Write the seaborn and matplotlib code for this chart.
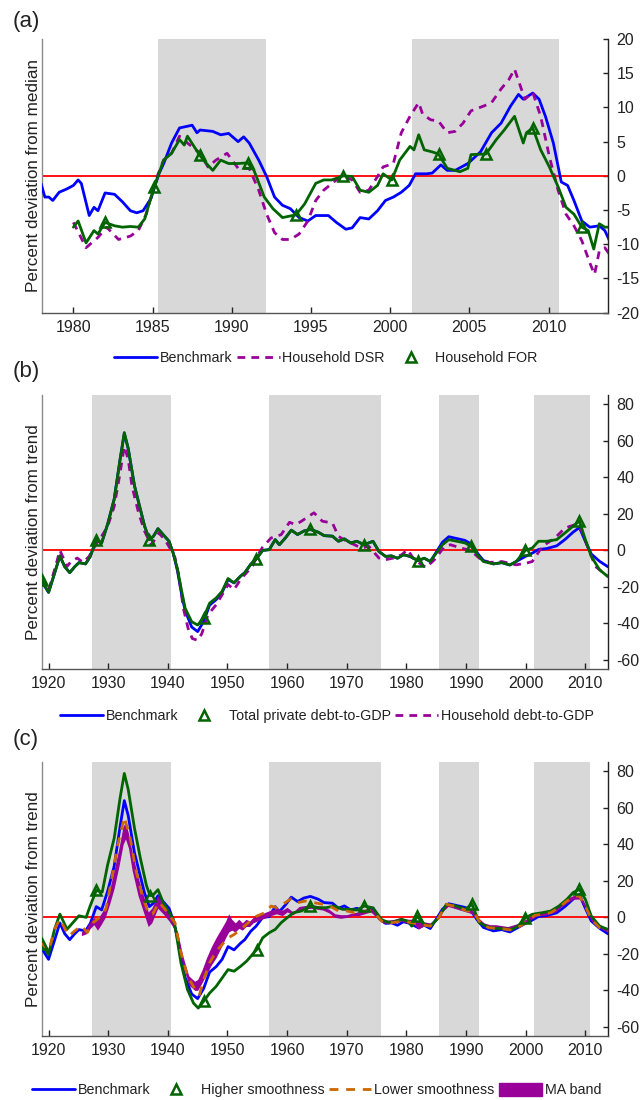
import matplotlib
matplotlib.use("Agg")
import matplotlib.pyplot as plt
import seaborn as sns
from matplotlib.lines import Line2D
from matplotlib.patches import Patch

sns.set_theme(style="white")
plt.rcParams["font.family"] = ["Liberation Sans", "DejaVu Sans"]
plt.rcParams["axes.unicode_minus"] = False

BLUE = "#0000ff"; GREEN = "#006400"; PURPLE = "#990099"
ORANGE = "#cc6600"; RED = "#ff0000"; SHADE = "#d8d8d8"

# ---------------- Panel (a) data ----------------
A_SHADE = [(1985.35, 1992.15), (2001.4, 2010.65)]
A_BENCH_X = [1977.93,1978.2,1978.45,1978.7,1979.1,1979.6,1980.0,1980.3,1980.5,1981.0,1981.3,1981.55,1982.0,1982.6,1983.1,1983.6,1984.0,1984.4,1984.9,1985.4,1985.7,1986.2,1986.7,1987.5,1987.8,1988.0,1988.8,1989.3,1989.8,1990.4,1990.75,1991.1,1991.7,1992.2,1992.7,1993.2,1993.7,1994.25,1994.8,1995.3,1996.1,1996.6,1997.2,1997.6,1998.1,1998.65,1999.2,1999.7,2000.2,2000.7,2001.2,2001.6,2002.3,2002.65,2003.2,2003.6,2004.1,2004.9,2005.7,2006.4,2007.0,2007.6,2008.1,2008.4,2009.0,2009.4,2009.8,2010.3,2010.8,2011.2,2011.6,2012.1,2012.6,2013.2,2013.55,2013.85]
A_BENCH_Y = [-0.9,-3.1,-3.1,-3.6,-2.4,-1.9,-1.4,-0.6,-1.1,-5.8,-4.6,-5.1,-2.5,-2.7,-3.8,-5.1,-5.4,-5.1,-3.3,0.3,1.8,4.8,7.0,7.4,6.3,6.7,6.5,6.0,6.2,5.0,5.7,4.8,2.3,-0.1,-3.1,-4.3,-4.8,-6.1,-6.6,-5.8,-5.8,-6.8,-7.8,-7.6,-6.1,-6.3,-5.1,-3.6,-3.1,-2.4,-1.4,0.3,0.3,0.4,1.6,0.8,0.8,1.8,3.5,6.3,7.7,10.2,11.9,11.2,12.1,11.2,8.7,4.8,-0.9,-1.4,-3.6,-6.6,-7.5,-7.3,-8.0,-9.5]
A_DSR_X = [1980.0,1980.8,1981.55,1982.1,1982.85,1983.6,1984.1,1984.6,1985.2,1985.7,1986.2,1986.7,1987.2,1988.0,1988.5,1989.0,1989.7,1990.4,1991.1,1991.7,1992.2,1992.7,1993.2,1993.7,1994.25,1994.8,1995.3,1995.8,1996.6,1997.1,1997.6,1998.1,1998.65,1999.2,1999.55,2000.2,2000.7,2001.25,2001.8,2002.05,2002.55,2003.05,2003.6,2004.1,2004.6,2005.1,2005.9,2006.4,2007.0,2007.5,2007.85,2008.25,2008.5,2009.0,2009.5,2010.05,2010.6,2011.1,2011.6,2012.1,2012.65,2012.9,2013.2,2013.55,2013.85]
A_DSR_Y = [-6.8,-10.5,-9.0,-7.5,-9.3,-8.8,-8.0,-5.6,-0.6,2.3,3.3,5.8,4.8,3.3,1.3,2.3,3.3,1.1,1.1,-2.1,-5.6,-8.3,-9.3,-9.3,-8.5,-6.6,-3.6,-2.1,-0.6,-0.1,-0.6,-2.4,-2.1,-0.1,1.3,1.8,6.3,8.7,10.7,9.0,8.2,8.0,6.3,6.5,7.7,9.5,10.2,10.7,12.7,14.1,15.6,12.9,11.2,12.2,8.7,2.8,-2.1,-5.6,-7.3,-9.5,-13.0,-14.4,-11.0,-10.5,-11.5]
A_FOR_X = [1980.0,1980.3,1980.8,1981.3,1981.55,1982.0,1982.6,1983.1,1983.6,1984.1,1984.5,1985.1,1985.7,1986.2,1986.7,1987.0,1987.2,1987.95,1988.4,1988.8,1989.3,1989.8,1990.4,1991.0,1991.4,1992.05,1992.6,1993.2,1994.05,1994.6,1995.3,1995.8,1996.3,1997.05,1997.6,1998.1,1998.65,1999.2,1999.55,2000.1,2000.6,2001.25,2001.5,2001.8,2002.15,2002.65,2003.05,2003.6,2004.1,2004.4,2004.9,2005.1,2006.05,2006.7,2007.2,2007.85,2008.4,2008.6,2009.0,2009.5,2010.05,2010.6,2011.1,2011.6,2012.1,2012.5,2012.85,2013.2,2013.55,2013.85]
A_FOR_Y = [-7.5,-6.6,-9.8,-8.0,-8.5,-6.8,-7.3,-7.5,-7.4,-7.5,-6.3,-1.6,2.3,3.3,5.3,4.5,5.8,3.1,1.8,0.8,2.3,1.8,1.8,1.9,0.8,-3.1,-4.8,-6.1,-5.7,-4.1,-1.1,-0.6,-0.6,0.0,-0.1,-2.1,-2.4,-1.4,0.3,-0.6,2.3,4.3,3.8,6.0,3.8,3.5,3.2,1.1,0.8,0.6,1.1,3.1,3.2,5.3,6.7,8.7,4.8,6.3,7.0,3.8,1.3,-1.6,-4.6,-5.6,-7.5,-8.0,-10.7,-7.0,-7.5,-7.5]
A_TRI_X = [1982.0,1985.1,1988.0,1991.0,1994.05,1997.05,2000.1,2003.05,2006.05,2009.0,2012.1]
A_TRI_Y = [-6.8,-1.6,3.1,1.9,-5.7,0.0,-0.6,3.2,3.2,7.0,-7.5]

# ---------------- Panel (b) data ----------------
BC_SHADE = [(1927.3, 1940.6), (1957.0, 1975.7), (1985.4, 1992.2), (2001.4, 2010.8)]
B_BENCH_X = [1918.85,1920.0,1921.0,1921.9,1922.7,1923.55,1924.4,1925.1,1926.2,1927.0,1928.0,1928.9,1929.9,1931.0,1932.0,1932.7,1933.35,1934.4,1935.1,1936.1,1936.9,1937.6,1938.35,1939.2,1940.2,1940.9,1941.6,1942.3,1942.9,1944.0,1945.0,1946.0,1947.0,1948.1,1949.1,1950.1,1951.1,1952.2,1952.9,1953.9,1954.8,1955.9,1957.0,1958.0,1958.7,1959.7,1960.7,1961.75,1962.8,1963.9,1965.2,1966.2,1967.6,1968.6,1969.6,1970.65,1971.7,1972.9,1974.4,1975.4,1976.5,1977.5,1978.5,1979.5,1980.6,1981.95,1983.0,1984.0,1985.0,1986.05,1987.1,1988.45,1989.8,1990.85,1991.9,1992.9,1994.6,1996.0,1997.35,1998.4,1999.95,2001.1,2002.15,2003.5,2005.2,2006.6,2007.95,2009.0,2010.0,2011.0,2012.4,2013.8]
B_BENCH_Y = [-17.0,-23.0,-12.6,-3.0,-8.9,-12.2,-8.9,-6.7,-7.4,-3.3,5.9,4.1,14.3,28.0,50.0,64.0,55.9,35.5,26.3,13.3,5.9,7.8,11.9,8.7,5.0,-1.5,-11.0,-24.0,-33.0,-42.0,-44.5,-39.0,-30.0,-27.0,-23.0,-16.0,-17.8,-14.1,-12.2,-7.6,-4.8,0.0,0.4,5.9,3.1,6.8,11.1,8.7,10.6,11.5,10.0,8.1,7.8,5.0,6.3,4.1,5.0,3.1,5.0,-0.6,-3.3,-3.0,-4.3,-2.4,-3.3,-5.6,-4.3,-6.1,-1.0,4.5,7.5,6.5,5.5,3.5,-1.5,-5.5,-7.4,-6.7,-8.0,-6.1,-3.3,-1.5,0.5,1.0,2.5,6.0,10.0,12.5,5.0,-2.0,-6.0,-9.0]
B_TOT_X = [1918.85,1920.0,1921.0,1921.9,1922.7,1923.55,1924.4,1925.1,1926.2,1927.0,1928.0,1928.9,1929.9,1931.0,1932.0,1932.7,1933.35,1934.4,1935.1,1936.1,1936.9,1937.6,1938.35,1939.2,1940.2,1940.9,1941.6,1942.3,1942.9,1944.0,1945.0,1946.0,1947.0,1948.1,1949.1,1950.1,1951.1,1952.2,1952.9,1953.9,1954.8,1955.9,1957.0,1958.0,1958.7,1959.7,1960.7,1961.75,1962.8,1963.9,1965.2,1966.2,1967.6,1968.6,1969.6,1970.65,1971.7,1972.9,1974.4,1975.4,1976.5,1977.5,1978.5,1979.5,1980.6,1981.95,1983.0,1984.0,1985.0,1986.05,1987.1,1988.45,1989.8,1990.85,1991.9,1992.9,1994.6,1996.0,1997.35,1998.4,1999.95,2001.1,2002.15,2003.5,2005.2,2006.6,2007.95,2009.0,2010.0,2011.0,2012.4,2013.8]
B_TOT_Y = [-16.3,-23.0,-12.6,-3.0,-8.9,-12.2,-8.9,-6.7,-7.4,-3.3,5.9,4.1,14.3,28.0,50.0,64.6,55.9,35.5,26.3,13.3,5.9,7.8,11.9,8.7,5.0,-1.5,-10.0,-22.0,-31.7,-39.1,-40.9,-36.9,-28.9,-26.1,-22.4,-15.4,-17.8,-14.1,-12.2,-7.6,-4.8,0.0,0.4,5.9,3.1,6.8,11.1,8.7,10.6,11.5,10.0,8.1,7.8,5.0,6.3,4.1,5.0,3.1,5.0,-0.6,-3.3,-3.0,-4.3,-2.4,-3.3,-5.6,-4.3,-6.1,-1.5,3.1,5.9,5.0,4.1,2.2,-2.4,-6.1,-7.4,-6.7,-8.0,-6.1,0.0,1.3,5.0,5.0,5.9,9.6,13.3,16.1,5.9,-3.3,-10.7,-14.4]
B_HH_X = [1918.85,1920.0,1921.4,1921.9,1923.1,1923.8,1924.8,1925.8,1926.8,1927.9,1928.9,1929.9,1931.0,1932.0,1932.7,1933.35,1934.0,1935.1,1936.1,1937.2,1937.8,1938.5,1939.5,1940.5,1941.2,1941.9,1942.6,1943.4,1944.1,1945.0,1945.7,1946.7,1948.1,1949.1,1950.1,1951.1,1952.2,1953.2,1954.2,1955.0,1955.9,1957.3,1959.0,1960.4,1961.4,1962.4,1964.5,1965.9,1967.6,1968.6,1970.0,1971.3,1972.4,1973.7,1975.4,1976.5,1977.8,1979.2,1980.2,1981.3,1983.3,1984.7,1986.4,1987.4,1989.1,1990.8,1992.2,1993.9,1996.0,1998.4,2000.1,2001.1,2002.8,2004.9,2006.6,2008.3,2009.3,2010.35,2011.7,2013.8]
B_HH_Y = [-16.0,-22.0,-6.0,0.0,-8.8,-6.0,-4.2,-6.6,-3.3,3.1,7.7,13.2,24.0,42.6,57.0,50.0,35.0,20.5,10.5,3.1,5.9,9.5,5.9,0.4,-4.0,-15.0,-31.7,-42.8,-48.3,-49.3,-45.6,-35.4,-29.8,-24.3,-18.7,-21.5,-15.9,-12.2,-8.5,-3.0,1.8,6.8,8.6,15.4,14.1,16.0,20.6,16.0,15.0,7.7,5.0,3.1,1.3,2.2,-4.2,-5.1,-4.2,-2.4,0.4,-5.1,-9.4,-5.1,2.2,3.1,1.3,0.0,-4.2,-6.6,-6.1,-7.9,-7.0,-6.1,2.2,6.8,12.3,14.1,11.4,2.2,-8.8,-14.3]
B_TRI_X = [1918.85,1928.0,1936.9,1946.0,1954.8,1963.9,1972.9,1981.95,1990.85,1999.95,2009.0]
B_TRI_Y = [-16.3,5.9,5.9,-36.9,-4.8,11.5,3.1,-5.6,2.2,0.0,16.1]

# ---------------- Panel (c) data ----------------
C_HIGH_X = [1918.85,1920.0,1921.0,1921.9,1923.1,1924.1,1925.1,1926.3,1927.0,1928.0,1929.0,1929.9,1931.0,1932.0,1932.7,1933.35,1934.4,1935.4,1936.4,1937.0,1937.45,1938.35,1939.2,1940.2,1940.9,1941.2,1942.2,1943.3,1944.3,1945.1,1946.0,1947.0,1948.1,1949.1,1950.1,1951.1,1952.2,1953.2,1954.9,1955.9,1957.0,1958.0,1959.0,1960.0,1961.1,1962.4,1963.8,1965.2,1966.5,1967.9,1969.3,1970.65,1971.7,1972.9,1974.4,1975.8,1976.8,1977.8,1979.2,1980.2,1980.9,1981.8,1983.0,1984.0,1985.4,1986.7,1988.4,1989.8,1991.0,1992.2,1993.9,1996.0,1997.7,1998.7,1999.95,2001.1,2002.8,2004.2,2005.55,2006.9,2007.95,2009.0,2010.0,2011.0,2012.4,2013.8]
C_HIGH_Y = [-14.8,-20.3,-6.5,1.8,-6.5,-2.8,0.9,0.0,6.5,14.8,13.9,28.7,43.4,65.6,78.9,70.2,49.0,32.3,17.6,12.0,12.0,15.2,8.3,2.8,-0.9,-4.8,-25.0,-39.6,-47.0,-49.7,-46.0,-41.5,-37.8,-33.2,-28.6,-29.5,-26.8,-24.0,-17.6,-11.2,-8.4,-6.6,-2.9,-0.2,2.6,3.5,6.2,5.3,5.3,6.2,4.4,4.4,4.0,6.2,5.3,-1.1,-2.6,-2.6,-1.1,-2.0,-4.8,0.7,-3.9,-4.8,-0.2,7.2,6.2,4.4,7.2,-2.9,-5.7,-6.2,-6.6,-4.8,-0.2,1.7,2.6,3.5,6.2,9.9,13.6,15.4,9.9,0.7,-4.8,-6.6]
C_LOW_X = [1918.85,1920.0,1921.0,1921.9,1923.4,1924.4,1925.5,1926.5,1927.5,1928.6,1929.6,1930.6,1931.6,1932.7,1933.7,1934.7,1935.7,1936.8,1937.45,1938.5,1939.5,1940.5,1941.2,1942.2,1943.3,1944.6,1945.3,1946.0,1947.0,1948.1,1949.1,1950.1,1951.1,1952.2,1953.5,1954.9,1956.3,1957.3,1958.3,1959.7,1960.7,1961.75,1963.1,1964.5,1965.9,1967.2,1968.6,1970.0,1971.3,1972.7,1974.4,1975.8,1977.5,1979.5,1980.9,1982.3,1984.0,1985.4,1986.7,1988.4,1990.2,1991.2,1992.55,1993.9,1996.0,1997.7,1999.05,2000.4,2001.5,2002.8,2004.2,2005.55,2006.9,2008.3,2009.0,2010.0,2011.0,2012.4,2013.8]
C_LOW_Y = [-13.9,-18.5,-6.5,-1.0,-10.2,-7.4,-4.6,-8.3,-2.8,0.0,4.6,21.3,39.7,54.9,43.4,25.0,12.0,1.8,1.8,8.3,4.6,0.0,-2.9,-19.4,-32.3,-39.6,-42.4,-34.1,-25.0,-18.5,-14.9,-11.2,-9.4,-6.6,-2.9,0.7,2.6,6.2,5.3,8.1,10.3,8.1,9.0,8.1,7.2,6.2,3.5,3.5,2.6,3.5,3.5,-2.0,-2.9,-2.0,-2.9,-3.9,-4.8,-0.2,7.2,5.9,3.5,3.5,-3.9,-5.7,-6.2,-7.0,-4.8,-2.0,1.1,1.7,2.6,5.3,9.0,11.7,11.7,6.2,-1.1,-5.7,-7.5]
C_TRI_X = [1918.85,1928.0,1937.0,1946.0,1954.9,1963.8,1972.9,1981.8,1991.0,1999.95,2009.0]
C_TRI_Y = [-14.8,14.8,12.0,-46.0,-17.6,6.2,6.2,0.7,7.2,-0.2,15.4]
C_MA_X = [1925.5,1926.3,1927.0,1927.6,1928.2,1928.8,1929.5,1930.3,1931.0,1931.8,1932.5,1932.9,1933.4,1934.0,1935.0,1936.0,1936.7,1937.3,1938.3,1939.2,1940.2,1941.0,1941.7,1942.5,1943.5,1944.5,1945.0,1945.7,1946.5,1947.3,1948.1,1949.0,1949.7,1950.2,1950.7,1951.3,1951.9,1952.5,1953.1,1953.7,1954.3,1955.0,1955.8,1956.5,1957.3,1958.2,1959.2,1960.0,1961.0,1962.0,1963.0,1964.0,1965.0,1966.0,1967.0,1968.0,1969.0,1970.0,1971.0,1972.0,1973.0,1974.0,1975.0,1976.0,1977.0,1978.0,1979.0,1980.0,1981.0,1982.0,1983.0,1984.0,1985.0,1986.0,1987.0,1988.0,1989.0,1990.0,1991.0,1992.0,1993.0,1994.0,1995.0,1996.0,1997.0,1998.0,1999.0,2000.0,2001.0,2002.0,2003.0,2004.0,2005.0,2006.0,2007.0,2008.0,2009.0,2010.0,2011.0,2012.0,2013.0,2013.8]
C_MA_LO = [-10,-9,-6,-4,-7,-4,0,8,16,28,40,43,38,26,12,2,-5,-3,5,2,-2,-6,-15,-26,-37,-40,-40,-36,-31,-26,-22,-16,-11,-8,-7,-8,-6,-7,-5,-5,-3,-2,-1,0,1,2,1,3,1.5,4,4.5,5,4.5,4,2.5,0,-0.5,0,1,1,2,3,0,-3,-3.5,-3,-2,-3,-3,-6.5,-4.5,-5,-2,3,6,5,4,3,2,-2,-5,-6,-6,-6.5,-7,-6,-5,-3,-1,1,1,2,3,6,8,10,10,5,-2,-5,-7,-8]
C_MA_HI = [-8,-6,-2,0,-1,2,6,16,26,38,50,52,46,36,22,11,3,5,12,7,2,-2,-9,-21,-32,-35,-34,-29,-22,-16,-11,-6,-2,2,-1,-3,-1,-3,-1,-2,0,1,2,3,4,5,4,5.5,3,6,6.5,7,6.5,6,4.5,2,1.5,1.5,2.5,3,4,5,2,-1,-1.5,-1,0,-1,-1,-2,-2.5,-3,0,5,8,7,6,5,4,0,-3,-4,-4,-4.5,-5,-4,-3,-1,1,3,3,3.5,5,8,10.5,12,12.5,7,0,-3,-5,-6]

fig = plt.figure(figsize=(6.41, 11), dpi=100)
L = 41.7 / 641
W = (608 - 41.7) / 641
H = 273.7 / 1100
axA = fig.add_axes([L, 1 - 312.7 / 1100, W, H])
axB = fig.add_axes([L, 1 - 669.0 / 1100, W, H])
axC = fig.add_axes([L, 1 - 1036.0 / 1100, W, H])


def style(ax, xlim, ylim, xticks, yticks, ylabel, shades):
    for s, e in shades:
        ax.axvspan(s, e, color=SHADE, lw=0, zorder=0)
    ax.axhline(0, color=RED, lw=1.3, zorder=2)
    ax.set_xlim(*xlim)
    ax.set_ylim(*ylim)
    ax.set_xticks(xticks)
    ax.set_yticks(yticks)
    ax.yaxis.tick_right()
    ax.yaxis.set_label_position("left")
    ax.set_ylabel(ylabel, fontsize=12.3, labelpad=0.5, color="#222222")
    ax.set_xlabel("")
    ax.tick_params(axis="x", direction="in", length=4.5, width=1, pad=5,
                   labelsize=11.5, colors="#222222", bottom=True, top=False)
    ax.tick_params(axis="y", direction="in", length=3.5, width=1, pad=6,
                   labelsize=11.5, colors="#222222", right=True, left=False)
    ax.spines["top"].set_visible(False)
    for s, c in [("left", "#8a8a8a"), ("bottom", "#555555"), ("right", "#222222")]:
        ax.spines[s].set_color(c)
        ax.spines[s].set_linewidth(1.0)
    ax.grid(False)


def line(ax, x, y, color, z, ls="-", lw=2.0):
    sns.lineplot(x=x, y=y, ax=ax, color=color, lw=lw, linestyle=ls,
                 estimator=None, sort=False, zorder=z, legend=False)


def tri(ax, x, y):
    ax.plot(x, y, ls="none", marker="^", ms=7.5, mfc="none", mec=GREEN,
            mew=1.8, zorder=6)


DASH_P = (0, (2.8, 2.2))
DASH_O = (0, (3.2, 2.8))

# Panel (a)
line(axA, A_BENCH_X, A_BENCH_Y, BLUE, 3)
line(axA, A_DSR_X, A_DSR_Y, PURPLE, 4, ls=DASH_P)
line(axA, A_FOR_X, A_FOR_Y, GREEN, 5)
tri(axA, A_TRI_X, A_TRI_Y)
style(axA, (1978.0, 2013.75), (-20, 20), list(range(1980, 2011, 5)),
      list(range(-20, 21, 5)), "Percent deviation from median", A_SHADE)

# Panel (b)
line(axB, B_BENCH_X, B_BENCH_Y, BLUE, 3)
line(axB, B_HH_X, B_HH_Y, PURPLE, 4, ls=DASH_P)
line(axB, B_TOT_X, B_TOT_Y, GREEN, 5)
tri(axB, B_TRI_X, B_TRI_Y)
style(axB, (1918.85, 2013.8), (-65, 85), list(range(1920, 2011, 10)),
      list(range(-60, 81, 20)), "Percent deviation from trend", BC_SHADE)

# Panel (c)
axC.fill_between(C_MA_X, C_MA_LO, C_MA_HI, color=PURPLE, lw=0, zorder=3.5)
line(axC, B_BENCH_X, B_BENCH_Y, BLUE, 3)
line(axC, C_HIGH_X, C_HIGH_Y, GREEN, 4)
line(axC, C_LOW_X, C_LOW_Y, ORANGE, 5, ls=DASH_O)
tri(axC, C_TRI_X, C_TRI_Y)
style(axC, (1918.85, 2013.8), (-65, 85), list(range(1920, 2011, 10)),
      list(range(-60, 81, 20)), "Percent deviation from trend", BC_SHADE)

# Legends
tri_h = Line2D([], [], ls="none", marker="^", ms=7.5, mfc="none", mec=GREEN, mew=1.8)
blue_h = Line2D([], [], color=BLUE, lw=2.0)
purp_h = Line2D([], [], color=PURPLE, lw=2.0, ls=DASH_P)
orng_h = Line2D([], [], color=ORANGE, lw=2.0, ls=DASH_O)
band_h = Patch(facecolor=PURPLE, edgecolor=PURPLE)

leg_kw = dict(loc="center", bbox_transform=fig.transFigure, frameon=False,
              fontsize=10.3, handlelength=3.0, handletextpad=0.2,
              columnspacing=0.3, borderaxespad=0, borderpad=0)
legA = axA.legend([blue_h, purp_h, tri_h], ["Benchmark", "Household DSR", "Household FOR"],
                  ncol=3, bbox_to_anchor=(0.508, 1 - 358.5 / 1100), **leg_kw)
legB = axB.legend([blue_h, tri_h, purp_h],
                  ["Benchmark", "Total private debt-to-GDP", "Household debt-to-GDP"],
                  ncol=3, bbox_to_anchor=(0.510, 1 - 715.7 / 1100), **leg_kw)
legC = axC.legend([blue_h, tri_h, orng_h, band_h],
                  ["Benchmark", "Higher smoothness", "Lower smoothness", "MA band"],
                  ncol=4, bbox_to_anchor=(0.494, 1 - 1090.0 / 1100),
                  handleheight=1.0, **leg_kw)
for lg in (legA, legB, legC):
    for t in lg.get_texts():
        t.set_color("#222222")

# Panel labels
for lab, yp in [("(a)", 21), ("(b)", 371.7), ("(c)", 740)]:
    fig.text(13 / 641, 1 - yp / 1100, lab, fontsize=16, va="center", ha="left",
             color="#222222")

fig.savefig("out.png", dpi=100)
